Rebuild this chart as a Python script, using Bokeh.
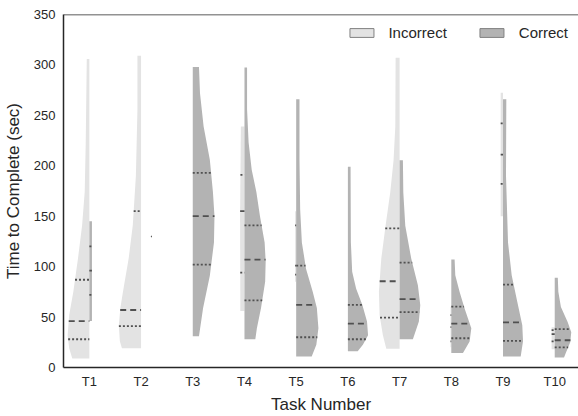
import numpy as np
from bokeh.plotting import figure
from bokeh.models import FixedTicker, Span, Legend, LegendItem, Range1d, ColumnDataSource
from bokeh.embed import file_html
from bokeh.resources import INLINE

# ---------------- data ----------------
tasks = ["T1", "T2", "T3", "T4", "T5", "T6", "T7", "T8", "T9", "T10"]
y_ticks = [0, 50, 100, 150, 200, 250, 300, 350]

# Incorrect (left half) violin outlines: values (sec) and half-widths (category units)
incorrect_y = [
    [306, 223, 174, 141, 108, 75, 52, 32, 19, 9],
    [309, 256, 190, 141, 108, 75, 59, 42, 26, 19],
    [],
    [239, 150, 56],
    [155, 85],
    [],
    [307, 239, 206, 174, 141, 108, 75, 52, 32, 18.5],
    [60, 20],
    [272.5, 150],
    [40, 18],
]
incorrect_w = [
    [0.05, 0.07, 0.09, 0.14, 0.22, 0.31, 0.39, 0.42, 0.39, 0.33],
    [0.07, 0.07, 0.10, 0.16, 0.24, 0.35, 0.40, 0.43, 0.41, 0.37],
    [],
    [0.07, 0.085, 0.08],
    [0.02, 0.02],
    [],
    [0.077, 0.083, 0.116, 0.18, 0.27, 0.354, 0.40, 0.387, 0.323, 0.257],
    [0.015, 0.015],
    [0.045, 0.045],
    [0.06, 0.06],
]
incorrect_quartiles = [
    [28, 46, 87],
    [41, 57, 155],
    None,
    [94, 155, 191],
    [92, 101, 141],
    None,
    [49.4, 85.5, 138],
    [26, 40, 52],
    [182, 211, 242],
    [26, 33, 37],
]

# Correct (right half) violin outlines
correct_y = [
    [145, 46],
    [],
    [298, 272, 239, 206, 174, 150, 124, 91, 59, 31],
    [297.5, 256, 223, 196, 174, 150, 124, 105, 85, 59, 39, 28],
    [266, 206, 157, 124, 98, 75, 59, 39, 22.5, 11],
    [199, 124, 95, 78, 62, 45.5, 32, 22.5, 16],
    [205.6, 173.5, 140.6, 107.8, 81.5, 61.8, 45.5, 28],
    [107, 91.4, 75, 58.6, 38.9, 25.8, 14.3],
    [266, 190, 124, 91.4, 65, 42, 26, 11],
    [89, 75, 60, 45, 35, 25, 15, 10],
]
correct_w = [
    [0.05, 0.05],
    [],
    [0.12, 0.14, 0.21, 0.33, 0.39, 0.42, 0.41, 0.33, 0.20, 0.12],
    [0.05, 0.05, 0.08, 0.14, 0.23, 0.30, 0.39, 0.41, 0.40, 0.32, 0.24, 0.21],
    [0.064, 0.064, 0.077, 0.11, 0.19, 0.32, 0.40, 0.43, 0.39, 0.30],
    [0.052, 0.058, 0.083, 0.16, 0.28, 0.37, 0.39, 0.29, 0.19],
    [0.064, 0.072, 0.11, 0.226, 0.354, 0.40, 0.373, 0.257],
    [0.064, 0.077, 0.16, 0.257, 0.387, 0.354, 0.226],
    [0.064, 0.058, 0.097, 0.168, 0.277, 0.373, 0.387, 0.342],
    [0.06, 0.07, 0.12, 0.25, 0.32, 0.30, 0.22, 0.18],
]
correct_quartiles = [
    [72, 96, 120],
    None,
    [102, 150, 193],
    [66.5, 107, 141],
    [30, 62, 101],
    [28, 43.5, 62],
    [55, 67.7, 104],
    [29, 43.5, 60.3],
    [26.4, 44.8, 82.2],
    [20, 27, 38],
]
# single observations (drawn as a tiny tick)
correct_single = [None, 130, None, None, None, None, None, None, None, None]

# ---------------- styling ----------------
INC_COLOR = "#e3e3e3"
COR_COLOR = "#b3b3b3"
LINE_COLOR = "#505050"
TEXT_COLOR = "#262626"
FONT = "Liberation Sans"

p = figure(width=578, height=416, output_backend="svg", toolbar_location=None,
           x_range=Range1d(-0.5, 9.46), y_range=Range1d(0, 350),
           min_border_left=63, min_border_right=0, min_border_top=14,
           min_border_bottom=46)
p.outline_line_color = None
p.grid.visible = False
p.background_fill_color = "white"


def half_width_at(ys, ws, q):
    ys = np.asarray(ys, float)
    ws = np.asarray(ws, float)
    order = np.argsort(ys)
    return float(np.interp(q, ys[order], ws[order]))


inc_xs, inc_ys, cor_xs, cor_ys = [], [], [], []
med_x, med_y, qrt_x, qrt_y = [], [], [], []
for i in range(len(tasks)):
    ys, ws = incorrect_y[i], incorrect_w[i]
    if ys:
        inc_xs.append([i - w for w in ws] + [i, i])
        inc_ys.append(list(ys) + [ys[-1], ys[0]])
    ys, ws = correct_y[i], correct_w[i]
    if ys:
        cor_xs.append([i + w for w in ws] + [i, i])
        cor_ys.append(list(ys) + [ys[-1], ys[0]])

p.patches(inc_xs, inc_ys, fill_color=INC_COLOR, line_color=None)
p.patches(cor_xs, cor_ys, fill_color=COR_COLOR, line_color=None)

for i in range(len(tasks)):
    for ys, ws, qs, sign in ((incorrect_y[i], incorrect_w[i], incorrect_quartiles[i], -1),
                             (correct_y[i], correct_w[i], correct_quartiles[i], 1)):
        if qs is None:
            continue
        for k, q in enumerate(qs):
            w = max(half_width_at(ys, ws, q), 0.012)
            xs = [i, i + w] if sign > 0 else [i - w, i]
            if k == 1:
                med_x.append(xs); med_y.append([q, q])
            else:
                qrt_x.append(xs); qrt_y.append([q, q])

p.multi_line(med_x, med_y, line_color=LINE_COLOR, line_width=1.8, line_dash="6 4")
p.multi_line(qrt_x, qrt_y, line_color=LINE_COLOR, line_width=1.8, line_dash="2 2")

sx, sy = [], []
for i, v in enumerate(correct_single):
    if v is not None:
        sx.append([i + 0.19, i + 0.21]); sy.append([v, v])
p.multi_line(sx, sy, line_color=LINE_COLOR, line_width=1.5)

# top spine
p.add_layout(Span(location=350, dimension="width", line_color=TEXT_COLOR, line_width=1.5))

# axes
p.xaxis.ticker = FixedTicker(ticks=list(range(len(tasks))))
p.xaxis.major_label_overrides = {i: t for i, t in enumerate(tasks)}
p.yaxis.ticker = FixedTicker(ticks=y_ticks)
p.xaxis.axis_label = "Task Number"
p.yaxis.axis_label = "Time to Complete (sec)"
for ax in (p.xaxis, p.yaxis):
    ax.axis_line_color = TEXT_COLOR
    ax.axis_line_width = 1.5
    ax.major_tick_line_color = None
    ax.minor_tick_line_color = None
    ax.major_tick_out = 0
    ax.major_tick_in = 0
    ax.major_label_text_font = FONT
    ax.major_label_text_font_size = "13px"
    ax.major_label_text_color = TEXT_COLOR
    ax.axis_label_text_font = FONT
    ax.axis_label_text_font_size = "17px"
    ax.axis_label_text_font_style = "normal"
    ax.axis_label_text_color = TEXT_COLOR
p.yaxis.major_label_standoff = 8
p.xaxis.major_label_standoff = 6
p.yaxis.axis_label_standoff = 8
p.xaxis.axis_label_standoff = 3

# legend (proxy glyphs with no visible data)
nan_src_a = ColumnDataSource(dict(l=[np.nan], r=[np.nan], t=[np.nan], b=[np.nan]))
nan_src_b = ColumnDataSource(dict(l=[np.nan], r=[np.nan], t=[np.nan], b=[np.nan]))
r_inc = p.quad(left="l", right="r", top="t", bottom="b", source=nan_src_a,
               fill_color=INC_COLOR, line_color="#808080", line_width=1)
r_cor = p.quad(left="l", right="r", top="t", bottom="b", source=nan_src_b,
               fill_color=COR_COLOR, line_color="#808080", line_width=1)
legend = Legend(items=[LegendItem(label="Incorrect", renderers=[r_inc]),
                       LegendItem(label="Correct", renderers=[r_cor])],
                orientation="horizontal", location="top_right",
                glyph_width=30, glyph_height=11, label_standoff=12, spacing=30,
                padding=0, margin=10, border_line_color=None, background_fill_alpha=0,
                label_text_font=FONT, label_text_font_size="15px", label_text_color=TEXT_COLOR)
p.add_layout(legend)

open("out.html", "w").write(file_html(p, INLINE))
